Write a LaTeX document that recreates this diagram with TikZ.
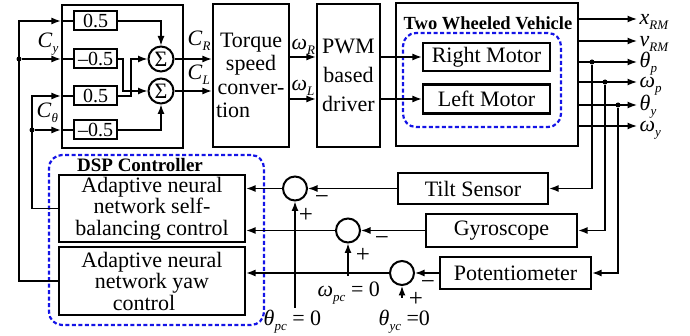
\documentclass[tikz,border=0pt]{standalone}
\usepackage{fontspec}
\setmainfont{Liberation Serif}
\usetikzlibrary{arrows.meta,calc}
\newcommand\fsz[1]{\fontsize{#1}{#1}\selectfont}
\newcommand\isub[2]{\textit{#1}\raisebox{-5pt}{\fsz{13}\itshape #2}}
\definecolor{dspblue}{RGB}{20,20,230}
\begin{document}
\begin{tikzpicture}[x=1pt,y=-1pt,
  line width=1.4pt,
  box/.style={draw,line width=2.2pt,inner sep=0pt,align=center,font=\fsz{22}},
  gbox/.style={draw,line width=2pt,inner sep=0pt,minimum width=43pt,minimum height=19pt,font=\fsz{20}},
  sumc/.style={draw,circle,line width=2pt,minimum size=25pt,inner sep=0pt,font=\fsz{22}},
  fbc/.style={draw,circle,line width=2pt,minimum size=24pt,inner sep=0pt},
  arr/.style={-{Latex[length=9.5pt,width=7pt]}},
  bluedash/.style={draw=dspblue,line width=2.2pt,dash pattern=on 4pt off 2.5pt,rounded corners=13pt,inner sep=0pt},
  lbl/.style={inner sep=0pt,font=\fsz{22}},
  sgn/.style={inner sep=0pt,font=\fsz{25}},
  dot/.style={circle,fill,inner sep=0pt,minimum size=5pt}
]
\useasboundingbox (0,0) rectangle (690,336);

% gain block
\node[box,minimum width=121pt,minimum height=143pt] (G) at (122.5,76.5) {};
\node[gbox] (g1) at (95.5,21) {0.5};
\node[gbox] (g2) at (95.5,59) {–0.5};
\node[gbox] (g3) at (95.5,96) {0.5};
\node[gbox] (g4) at (95.5,130) {–0.5};
\node[sumc] (s1) at (161,59) {Σ};
\node[sumc] (s2) at (161,91) {Σ};

% torque, PWM
\node[box,minimum width=76pt,minimum height=143pt,align=left,text width=70pt,font=\fontsize{22}{23.5}\selectfont] (T) at (251,75.5)
  {\makebox[70pt]{Torque}\\\makebox[70pt]{speed}\\\makebox[70pt]{conver-}\\tion};
\node[box,minimum width=63pt,minimum height=143pt,font=\fontsize{22}{29}\selectfont] (P) at (348.5,75.5) {PWM\\based\\driver};

% vehicle
\node[box,minimum width=182pt,minimum height=143pt] (V) at (487,74.5) {};
\node[lbl,font=\fsz{18.5}\bfseries] (VT) at (488,23) {Two Wheeled Vehicle};
\node[bluedash,minimum width=158pt,minimum height=94pt] (MD) at (482,80) {};
\node[box,minimum width=127pt,minimum height=28pt] (RM) at (486.5,57) {Right Motor};
\node[box,minimum width=127pt,minimum height=29pt] (LM) at (486.5,99) {Left Motor};

% controller
\node[bluedash,minimum width=215pt,minimum height=170pt] (DSP) at (156.5,240) {};
\node[lbl,font=\fsz{19}\bfseries] (DT) at (140,165.5) {DSP Controller};
\node[box,minimum width=186pt,minimum height=67pt,font=\fontsize{22}{21.5}\selectfont] (SB) at (152,208.5)
  {Adaptive neural\\network self-\hspace*{12pt}\\balancing control};
\node[box,minimum width=186pt,minimum height=68pt,font=\fontsize{22}{21.5}\selectfont] (YW) at (152,281)
  {Adaptive neural\\network yaw\hspace*{14pt}\\control\hspace*{16pt}};

% sensors
\node[box,minimum width=150pt,minimum height=31pt] (TS) at (473,188.5) {Tilt Sensor};
\node[box,minimum width=151pt,minimum height=33pt] (GY) at (501.5,230.5) {Gyroscope};
\node[box,minimum width=151pt,minimum height=32pt] (PT) at (515.5,273) {Potentiometer};

% comparators
\node[fbc] (c1) at (295,188.5) {};
\node[fbc] (c2) at (348,230.5) {};
\node[fbc] (c3) at (402,273) {};

% left input lines
\coordinate (ya) at (19,21);
\node[dot] (yd) at (19,59) {};
\coordinate (ta) at (32,96);
\node[dot] (td) at (32,130) {};
\draw[arr] (YW.west) -| (ya) -- (G.west|-g1);
\draw (G.west|-g1) -- (g1.west);
\draw[arr] (yd) -- (G.west|-g2);
\draw (G.west|-g2) -- (g2.west);
\draw[arr] (SB.west) -| (ta) -- (G.west|-g3);
\draw (G.west|-g3) -- (g3.west);
\draw[arr] (td) -- (G.west|-g4);
\draw (G.west|-g4) -- (g4.west);

% internal gain lines
\coordinate (k1) at (123,91);
\coordinate (k2) at (131,59);
\draw[arr] (g1.east) -| (s1.north);
\draw[arr] (g2.east) -| (k1) -- (s2.west);
\draw[arr] (g3.east) -| (k2) -- (s1.west);
\draw[arr] (g4.east) -| (s2.south);
\draw[arr] (s1.east) -- (T.west|-s1);
\draw[arr] (s2.east) -- (T.west|-s2);
\draw[arr] (T.east|-RM) -- (P.west|-RM);
\draw[arr] (T.east|-LM) -- (P.west|-LM);
\draw[arr] (P.east|-RM) -- (RM.west);
\draw[arr] (P.east|-LM) -- (LM.west);

% labels in top row
\node[lbl,anchor=base west] (lCy) at (37,48) {\isub{C}{y}};
\node[lbl,anchor=base west] (lCt) at (36,118) {\isub{C}{θ}};
\node[lbl,anchor=base west] (lCR) at (187,46) {\isub{C}{R}};
\node[lbl,anchor=base west] (lCL) at (187,80) {\isub{C}{L}};
\node[lbl,anchor=base west] (lwR) at (291,50) {\isub{ω}{R}};
\node[lbl,anchor=base west] (lwL) at (291,91) {\isub{ω}{L}};

% outputs
\coordinate (o1) at (637,19);
\coordinate (o2) at (637,41);
\coordinate (o3) at (637,62);
\coordinate (o4) at (637,82);
\coordinate (o5) at (637,105);
\coordinate (o6) at (637,126);
\foreach \o in {o1,o2,o3,o4,o5,o6} \draw[arr] (V.east|-\o) -- (\o);
\node[lbl,anchor=base west] (lx) at (639,25) {\isub{x}{RM}};
\node[lbl,anchor=base west] (lv) at (639,47) {\isub{v}{RM}};
\node[lbl,anchor=base west] (ltp) at (639,68) {\isub{θ}{p}};
\node[lbl,anchor=base west] (lwp) at (639,88) {\isub{ω}{p}};
\node[lbl,anchor=base west] (lty) at (639,111) {\isub{θ}{y}};
\node[lbl,anchor=base west] (lwy) at (639,132) {\isub{ω}{y}};

% feedback
\node[dot] (d1) at (592,62) {};
\node[dot] (d2) at (605,82) {};
\node[dot] (d3) at (618,105) {};
\draw[arr] (d1) |- (TS.east);
\draw[arr] (d2) |- (GY.east);
\draw[arr] (d3) |- (PT.east);

\draw[arr] (TS.west) -- (c1.east);
\draw[arr] (c1.west) -- (SB.east|-c1);
\draw[arr] (GY.west) -- (c2.east);
\draw[arr] (c2.west) -- (SB.east|-c2);
\draw[arr] (PT.west) -- (c3.east);
\draw[arr] (c3.west) -- (YW.east|-c3);

\coordinate (r1) at (295,308);
\coordinate (r2) at (348,276);
\coordinate (r3) at (402,298);
\draw[arr] (r1) -- (c1.south);
\draw[arr] (r2) -- (c2.south);
\draw[arr] (r3) -- (c3.south);

\node[sgn] (m1) at (322,200) {−};
\node[sgn] (p1) at (306,215) {+};
\node[sgn] (m2) at (382,241) {−};
\node[sgn] (p2) at (363,255) {+};
\node[sgn] (m3) at (428,285) {−};
\node[sgn] (p3) at (416,299) {+};

\node[lbl,anchor=base west] (lwpc) at (317,297) {\isub{ω}{pc} = 0};
\node[lbl,anchor=base west] (ltpc) at (263,326) {\isub{θ}{pc} = 0};
\node[lbl,anchor=base west] (ltyc) at (378,326) {\isub{θ}{yc} =0};
\end{tikzpicture}
\end{document}
